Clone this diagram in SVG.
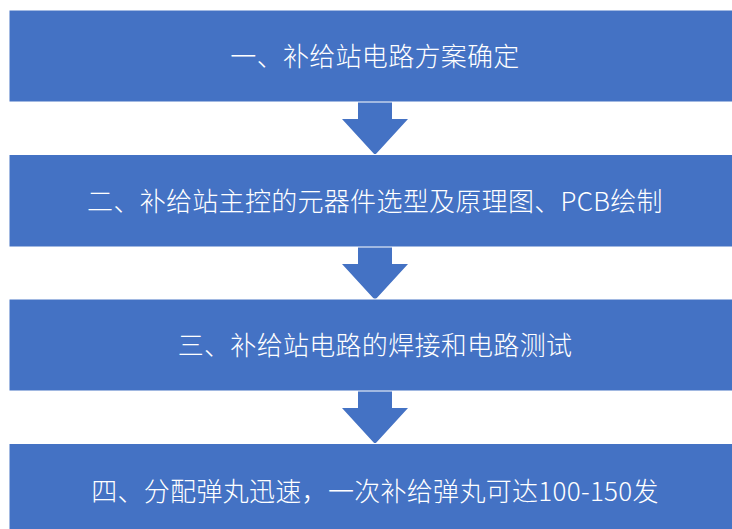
<svg xmlns="http://www.w3.org/2000/svg" width="732" height="529" viewBox="0 0 732 529">
  <style>
    .box { fill: #4472C4; stroke: #ffffff; stroke-width: 1; }
    .arrow { fill: #4472C4; stroke: none; }
    .label { fill: #ffffff; font-family: "Microsoft YaHei", "Noto Sans CJK SC", "Noto Sans", sans-serif; font-size: 26px; font-weight: 300; letter-spacing: 0.3px; text-anchor: middle; }
  </style>
  <rect width="732" height="529" fill="#ffffff"/>
  <g id="connectors">
    <polygon class="arrow" points="358,102 392,102 392,119 408,119 375,155 342,119 358,119"/>
    <polygon class="arrow" points="358,247 392,247 392,264 408,264 375,300 342,264 358,264"/>
    <polygon class="arrow" points="358,391 392,391 392,408 408,408 375,444 342,408 358,408"/>
  </g>
  <g id="step1">
    <rect class="box" x="9" y="10" width="732" height="92"/>
    <text class="label" x="375" y="66">一、补给站电路方案确定</text>
  </g>
  <g id="step2">
    <rect class="box" x="9" y="154.5" width="732" height="92.5"/>
    <text class="label" x="375" y="211">二、补给站主控的元器件选型及原理图、PCB绘制</text>
  </g>
  <g id="step3">
    <rect class="box" x="9" y="299" width="732" height="92"/>
    <text class="label" x="375" y="355">三、补给站电路的焊接和电路测试</text>
  </g>
  <g id="step4">
    <rect class="box" x="9" y="443.5" width="732" height="92"/>
    <text class="label" x="375" y="501">四、分配弹丸迅速，一次补给弹丸可达100-150发</text>
  </g>
</svg>
